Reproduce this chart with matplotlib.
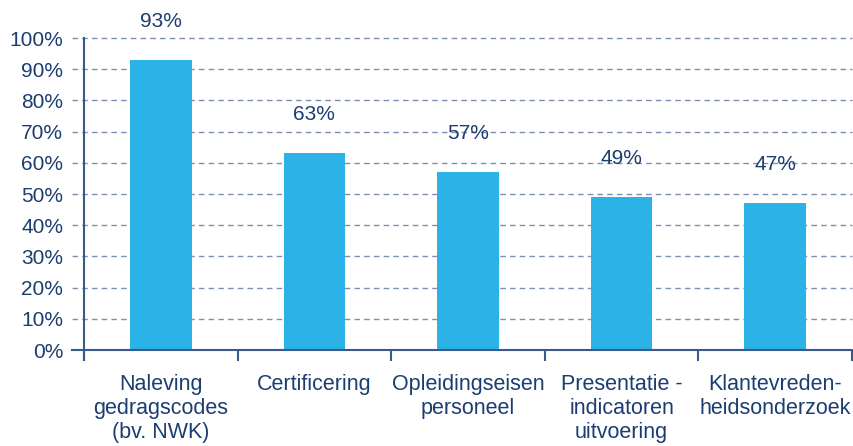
import matplotlib
matplotlib.use("Agg")
import matplotlib.pyplot as plt
import numpy as np

categories = ["Naleving\ngedragscodes\n(bv. NWK)", "Certificering", "Opleidingseisen\npersoneel",
              "Presentatie -\nindicatoren\nuitvoering", "Klantevreden-\nheidsonderzoek"]
values = [93, 63, 57, 49, 47]
value_labels = ["93%", "63%", "57%", "49%", "47%"]
yticks = [0, 10, 20, 30, 40, 50, 60, 70, 80, 90, 100]
ytick_labels = [f"{v}%" for v in yticks]

TEXT = "#1b3d70"
BAR = "#2bb3e7"
GRID = "#7d8fb2"
AXIS = "#3a5a8c"

plt.rcParams['font.family'] = ['Liberation Sans', 'DejaVu Sans']

fig = plt.figure(figsize=(8.54, 4.46), dpi=100)
ax = fig.add_axes([84/854, 1-350/446, (852-84)/854, (350-38)/446])

x = np.arange(len(values))
bars = ax.bar(x, values, width=0.4, color=BAR, zorder=3)
ax.bar_label(bars, labels=value_labels, padding=21, color=TEXT, fontsize=15)

ax.set_xlim(-0.5, len(values)-0.5)
ax.set_ylim(0, 100)

for v in yticks[1:]:
    ax.axhline(v, xmin=-0.016, xmax=1, color=GRID, lw=1.0, ls=(0, (4, 3)), clip_on=False, zorder=1)
ax.axhline(0, xmin=-0.016, xmax=1, color=AXIS, lw=1.5, clip_on=False, zorder=4)

for s in ["top", "right", "bottom"]:
    ax.spines[s].set_visible(False)
ax.spines["left"].set_color(AXIS)
ax.spines["left"].set_linewidth(1.5)
ax.spines["left"].set_bounds(-3.2, 100)

ax.set_yticks(yticks)
ax.set_yticklabels(ytick_labels, color=TEXT, fontsize=15)
ax.tick_params(axis="y", length=0, pad=15)

ax.set_xticks(x)
ax.set_xticklabels(categories, color=TEXT, fontsize=15.5, linespacing=1.2)
ax.tick_params(axis="x", which="major", length=0, pad=17)
ax.set_xticks(np.arange(len(values)+1) - 0.5, minor=True)
ax.tick_params(axis="x", which="minor", length=8, width=1.5, color=AXIS, direction="out")

fig.savefig("out.png", dpi=100)
